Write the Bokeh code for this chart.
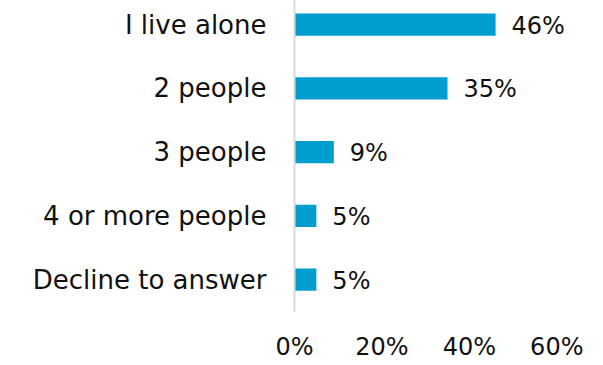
from bokeh.plotting import figure
from bokeh.models import Range1d, ColumnDataSource, FixedTicker
from bokeh.core.properties import value
from bokeh.embed import file_html
from bokeh.resources import INLINE

categories = ["I live alone", "2 people", "3 people", "4 or more people", "Decline to answer"]
values = [46, 35, 9, 5, 5]
x_ticks = [0, 20, 40, 60]
x_tick_labels = ["0%", "20%", "40%", "60%"]

FONT = "DejaVu Sans"
FS = "24px"
n = len(categories)
ypos = [n - i for i in range(n)]

src = ColumnDataSource(dict(
    y=ypos, v=values, lab=[f"{v}%" for v in values]))

p = figure(frame_width=306, frame_height=311, output_backend="svg", toolbar_location=None,
           x_range=Range1d(0, 70), y_range=Range1d(0.5, 5.38),
           min_border_left=294, min_border_right=3, min_border_top=0,
           min_border_bottom=54)
p.outline_line_color = None
p.xgrid.visible = False
p.ygrid.visible = False
p.background_fill_color = "white"

p.hbar(y="y", right="v", left=0, height=0.35, source=src,
       fill_color="#009ECE", line_color=None)
p.text(x="v", y="y", text="lab", source=src, x_offset=16, y_offset=1,
       text_baseline="middle", text_align="left",
       text_font=value(FONT), text_font_size=FS, text_color="#111111")

p.yaxis.ticker = FixedTicker(ticks=ypos)
p.yaxis.major_label_overrides = {y: c for y, c in zip(ypos, categories)}
p.yaxis.major_tick_line_color = None
p.yaxis.minor_tick_line_color = None
p.yaxis.axis_line_color = "#d9d9d9"
p.yaxis.axis_line_width = 2
p.yaxis.major_label_standoff = 22
p.yaxis.major_label_text_font = FONT
p.yaxis.major_label_text_font_size = "26px"
p.yaxis.major_label_text_color = "#111111"

p.xaxis.ticker = FixedTicker(ticks=x_ticks)
p.xaxis.major_label_overrides = {t: l for t, l in zip(x_ticks, x_tick_labels)}
p.xaxis.axis_line_color = None
p.xaxis.major_tick_line_color = None
p.xaxis.minor_tick_line_color = None
p.xaxis.major_label_standoff = 15
p.xaxis.major_label_text_font = FONT
p.xaxis.major_label_text_font_size = FS
p.xaxis.major_label_text_color = "#111111"

open("out.html", "w").write(file_html(p, INLINE))
